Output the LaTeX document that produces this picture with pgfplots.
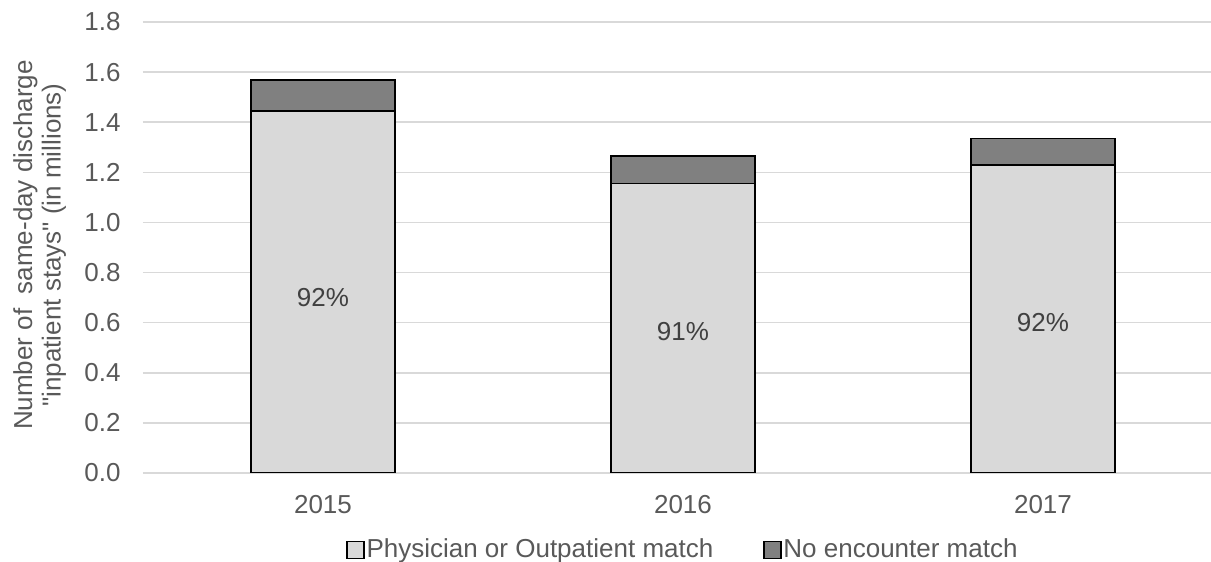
\documentclass[border=0pt]{standalone}
\usepackage{fontspec}
\setmainfont{Liberation Sans}[Ligatures=TeXOff]
\usepackage{pgfplots}
\pgfplotsset{compat=1.18}
\definecolor{txt}{HTML}{595959}
\definecolor{lbl}{HTML}{404040}
\definecolor{gridc}{HTML}{D9D9D9}
\definecolor{lightbar}{HTML}{D9D9D9}
\definecolor{darkbar}{HTML}{808080}
\newcommand{\ff}{\fontsize{13pt}{14.25pt}\selectfont}
\begin{document}
\begin{tikzpicture}
\useasboundingbox (-71.5pt,-44.5pt) rectangle (534pt,236.5pt);
\begin{axis}[
  at={(0pt,0pt)}, anchor=south west,
  scale only axis, width=534pt, height=225.5pt,
  ybar stacked, bar width=72pt,
  xmin=-0.5, xmax=2.4667, ymin=0, ymax=1.8,
  xtick={0,1,2}, xticklabels={2015,2016,2017},
  ytick={0,0.2,0.4,0.6,0.8,1.0,1.2,1.4,1.6,1.8},
  /pgf/number format/assume math mode=true,
  yticklabel style={/pgf/number format/fixed, /pgf/number format/fixed zerofill, /pgf/number format/precision=1, xshift=-7.7pt},
  xticklabel style={yshift=-7.55pt},
  tick label style={font=\ff, text=txt},
  major tick length=0pt,
  axis line style={draw=none},
  ymajorgrids, grid style={gridc, line width=0.75pt},
  every axis y label/.style={at={(axis description cs:-0.1218,0.5055)}, rotate=90, anchor=north, align=center, inner sep=0pt, font=\ff, text=txt},
  ylabel={Number of~ same-day discharge\\"inpatient stays" (in millions)},
  legend columns=2,
  legend style={at={(0.5047,-0.1707)}, anchor=center, draw=none, fill=none, font=\ff, text=txt,
    /tikz/every even column/.append style={column sep=25pt},
    /tikz/every odd column/.append style={column sep=0.8pt},
    nodes={inner xsep=0pt}},
]
\addplot[fill=lightbar, draw=black, line width=0.75pt,
  legend image code/.code={\draw[fill=lightbar, draw=black, line width=0.75pt] (0pt,-4.25pt) rectangle (8.5pt,4.25pt);}]
  coordinates {(0,1.445) (1,1.156) (2,1.230)};
\addlegendentry{Physician or Outpatient match}
\addplot[fill=darkbar, draw=black, line width=0.75pt,
  legend image code/.code={\draw[fill=darkbar, draw=black, line width=0.75pt] (0pt,-4.25pt) rectangle (8.5pt,4.25pt);}]
  coordinates {(0,0.123) (1,0.109) (2,0.106)};
\addlegendentry{No encounter match}
\coordinate (p1) at (axis cs:0,0.700);
\coordinate (p2) at (axis cs:1,0.565);
\coordinate (p3) at (axis cs:2,0.600);
\end{axis}
\node[font=\ff, text=lbl] at (p1) {92\%};
\node[font=\ff, text=lbl] at (p2) {91\%};
\node[font=\ff, text=lbl] at (p3) {92\%};
\end{tikzpicture}
\end{document}
